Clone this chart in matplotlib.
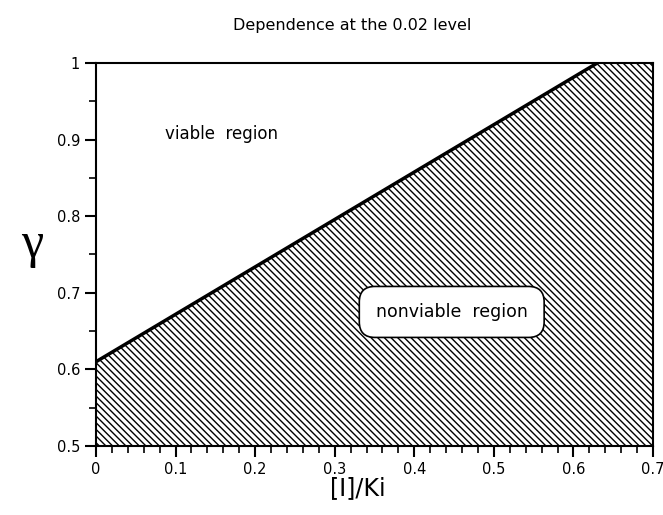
import matplotlib
matplotlib.use("Agg")
import matplotlib.pyplot as plt
import numpy as np

plt.rcParams['font.family'] = ['DejaVu Sans']
plt.rcParams['hatch.linewidth'] = 1.0

# boundary between viable / nonviable regions
ratio = [0.0, 0.63]        # [I]/Ki
gamma = [0.61, 1.0]

x_range = [0.0, 0.7]
y_range = [0.5, 1.0]
x_major = [0.0, 0.1, 0.2, 0.3, 0.4, 0.5, 0.6, 0.7]
x_labels = ['0', '0.1', '0.2', '0.3', '0.4', '0.5', '0.6', '0.7']
y_major = [0.5, 0.6, 0.7, 0.8, 0.9, 1.0]
y_labels = ['0.5', '0.6', '0.7', '0.8', '0.9', '1']

fig = plt.figure(figsize=(6.63, 5.15), dpi=100)
ax = fig.add_axes([0.1448, 0.134, 0.8402, 0.7437])

# shaded nonviable region below the line
xs = [ratio[0], ratio[1], x_range[1], x_range[1], ratio[0]]
ys = [gamma[0], gamma[1], y_range[1], y_range[0], y_range[0]]
ax.fill(xs, ys, facecolor='white', edgecolor='black', hatch='\\\\\\\\\\', linewidth=0)
ax.plot(ratio, gamma, color='black', linewidth=2.5, solid_capstyle='butt')

ax.set_xlim(x_range)
ax.set_ylim(y_range)
ax.set_xticks(x_major)
ax.set_xticklabels(x_labels)
ax.set_xticks(np.arange(0.02, 0.7, 0.02), minor=True)
ax.set_yticks(y_major)
ax.set_yticklabels(y_labels)
ax.set_yticks(np.arange(0.55, 1.0, 0.1), minor=True)
ax.tick_params(which='major', direction='out', length=8, width=1.5, labelsize=10.5)
ax.tick_params(which='minor', direction='out', length=5, width=1.2)
for s in ax.spines.values():
    s.set_linewidth(1.5)

ax.text(0.087, 0.907, 'viable  region', fontsize=12, ha='left', va='center')
ax.text(0.447, 0.675, 'nonviable  region', fontsize=12.5, ha='center', va='center',
        bbox=dict(boxstyle='round,pad=0.95,rounding_size=0.9', facecolor='white',
                  edgecolor='black', linewidth=1.2))

fig.text(0.531, 0.951, 'Dependence at the 0.02 level', fontsize=11.5, ha='center', va='center')
fig.text(0.54, 0.052, '[I]/Ki', fontsize=17, ha='center', va='center')
fig.text(0.048, 0.525, 'γ', fontsize=36, ha='center', va='center', family='Liberation Serif')

fig.savefig('out.png', dpi=100)
